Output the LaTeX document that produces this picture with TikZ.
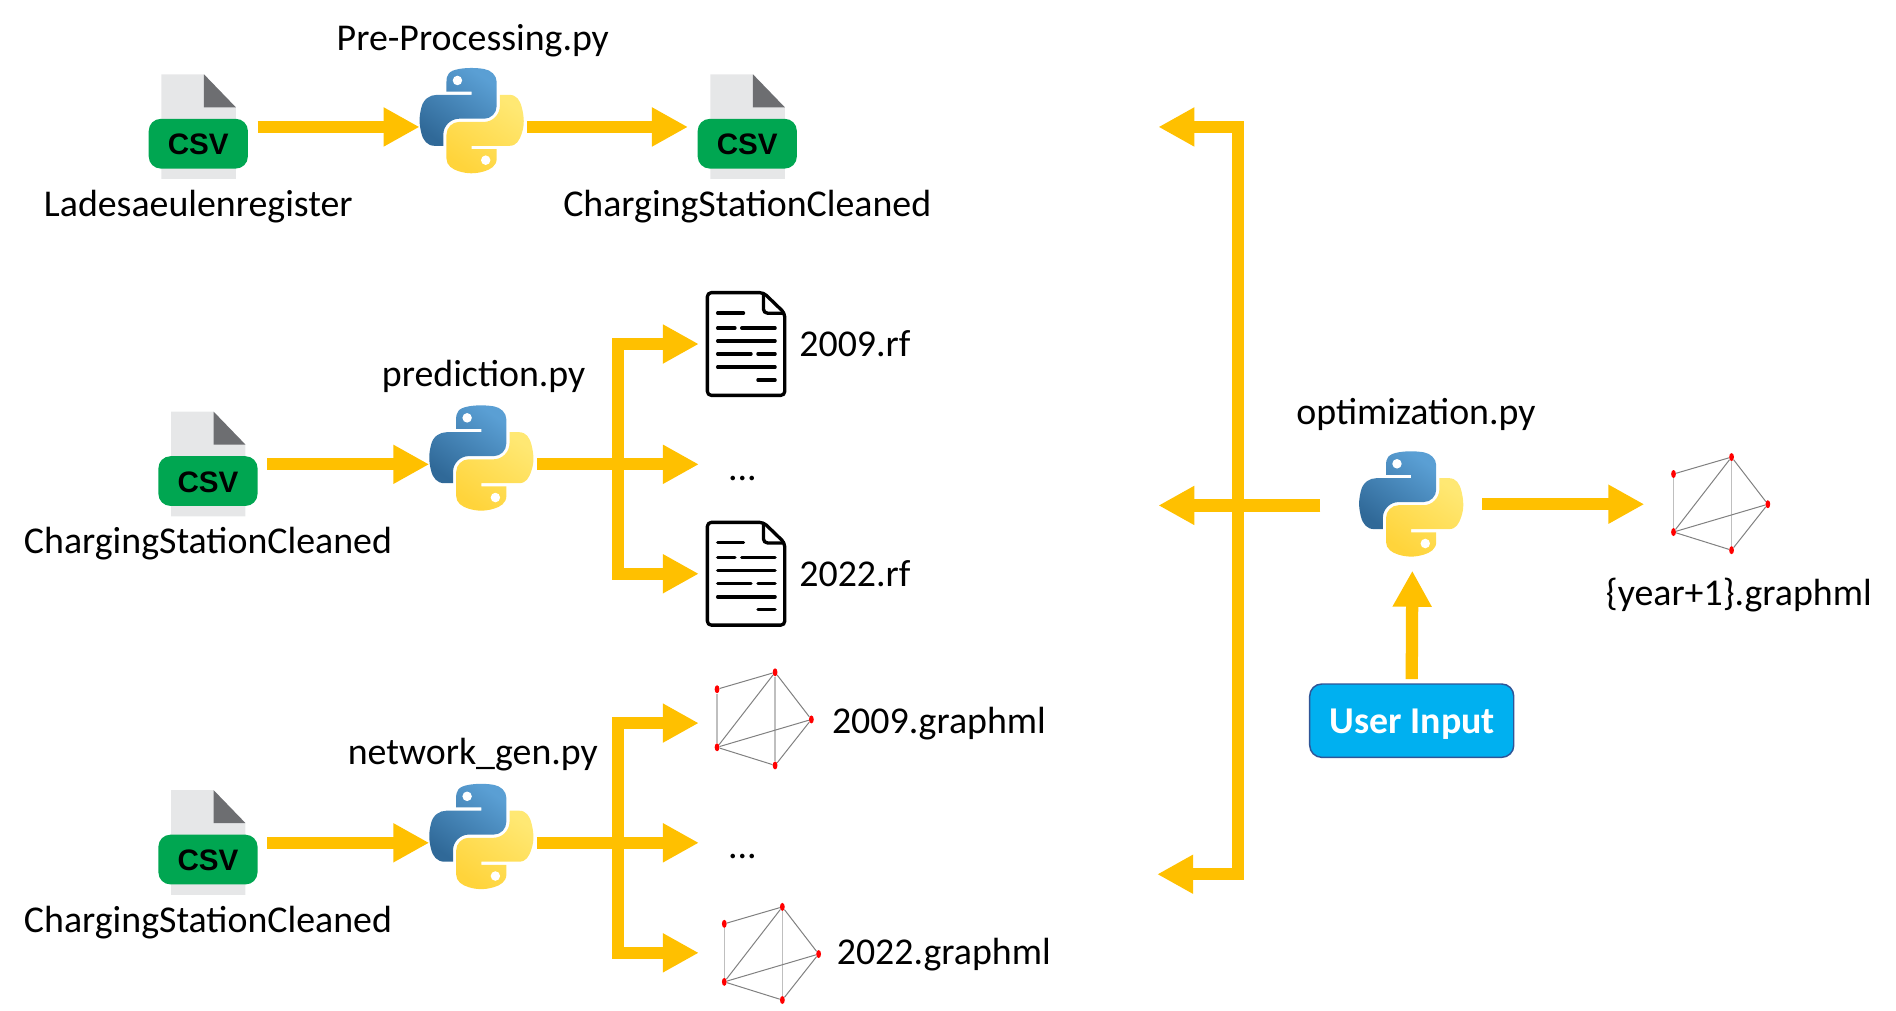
\documentclass[tikz,border=0pt]{standalone}
\usepackage{fontspec}
\setmainfont{Carlito}
\newfontfamily\csvfont{Liberation Sans}
\usetikzlibrary{arrows.meta,shapes.geometric}
\definecolor{flowc}{HTML}{FFC000}
\definecolor{pyblueA}{HTML}{5A9FD4}
\definecolor{pyblueB}{HTML}{306998}
\definecolor{pyyelA}{HTML}{FFE873}
\definecolor{pyyelB}{HTML}{FFD43B}
\definecolor{pageg}{HTML}{E6E7E8}
\definecolor{foldg}{HTML}{6D6E71}
\definecolor{badge}{HTML}{00A651}
\definecolor{userfill}{HTML}{00B0F0}
\definecolor{userline}{HTML}{2F5597}
\tikzset{
  txt/.style={font=\fontsize{28.4}{34}\selectfont,inner sep=0pt,anchor=base,text=black},
  flow/.style={draw=flowc,line width=9.2pt,-{Triangle[length=27pt,width=27.5pt,fill=flowc]}},
  iconbox/.style={inner sep=0pt,minimum width=#1*0.9068pt,minimum height=70pt},
  gdot/.style={fill=red,draw=none,ellipse,inner sep=0pt,minimum width=3.6pt,minimum height=6pt},
  gedge/.style={draw=black!50,line width=0.75pt},
  gedgel/.style={draw=black!25,line width=0.9pt},
  docline/.style={draw=black,line width=2.5pt,line cap=round},
  pylogo/.pic={
    \begin{scope}[scale=0.775,shift={(-55.5,-56.5)}]
      \shade[left color=pyblueA,right color=pyblueB,shading angle=-35]
        (54.92,0) .. controls (50.34,0.02) and (45.96,0.41) .. (42.11,1.09)
        .. controls (30.76,3.10) and (28.70,7.29) .. (28.70,15.03)
        -- (28.70,25.25) -- (55.51,25.25) -- (55.51,28.66) -- (18.64,28.66)
        .. controls (10.85,28.66) and (4.02,33.34) .. (1.89,42.25)
        .. controls (-0.57,52.46) and (-0.68,58.84) .. (1.89,69.50)
        .. controls (3.79,77.44) and (8.35,83.09) .. (16.14,83.09)
        -- (25.36,83.09) -- (25.36,70.84)
        .. controls (25.36,61.99) and (33.01,54.18) .. (42.11,54.18)
        -- (68.89,54.18)
        .. controls (76.34,54.18) and (82.29,48.04) .. (82.29,40.56)
        -- (82.29,15.03)
        .. controls (82.29,7.76) and (76.16,2.30) .. (68.89,1.09)
        .. controls (64.28,0.33) and (59.50,-0.02) .. (54.92,0) -- cycle;
      \fill[white] (40.42,13.34) ellipse [x radius=5.03,y radius=5.1];
      \shade[left color=pyyelA,right color=pyyelB,shading angle=-35]
        (85.64,28.66) -- (85.64,40.56)
        .. controls (85.64,49.79) and (77.81,57.56) .. (68.89,57.56)
        -- (42.11,57.56)
        .. controls (34.77,57.56) and (28.70,63.84) .. (28.70,71.19)
        -- (28.70,96.71)
        .. controls (28.70,103.98) and (35.02,108.25) .. (42.11,110.33)
        .. controls (50.60,112.83) and (58.74,113.28) .. (68.89,110.33)
        .. controls (75.64,108.37) and (82.30,104.44) .. (82.30,96.71)
        -- (82.30,86.49) -- (55.52,86.49) -- (55.52,83.09) -- (95.71,83.09)
        .. controls (103.50,83.09) and (106.40,77.65) .. (109.12,69.50)
        .. controls (111.93,61.10) and (111.81,53.02) .. (109.12,42.25)
        .. controls (107.19,34.49) and (103.52,28.66) .. (95.71,28.66) -- cycle;
      \fill[white] (70.58,98.40) ellipse [x radius=5.03,y radius=5.1];
    \end{scope}
  },
  csvicon/.pic={
    \fill[pageg] (-30.5,-43.5) -- (4.7,-43.5) -- (31,-16.3) -- (31,43) -- (-30.5,43) -- cycle;
    \fill[foldg] (4.7,-43.5) -- (31,-16.3) -- (4.7,-16.3) -- cycle;
    \fill[badge,rounded corners=9] (-41,-6.7) rectangle (41,34.4);
    \node[inner sep=0pt,text=black,font=\csvfont\bfseries\fontsize{22.2}{24}\selectfont] (label) at (0,14.5) {CSV};
  },
  docicon/.pic={
    \draw[line width=2.5pt,line join=round,rounded corners=3,fill=white]
      (-32,-42.5) -- (14.4,-42.5) -- (32,-25.5) -- (32,42.5) -- (-32,42.5) -- cycle;
    \draw[line width=2.5pt,line join=round,rounded corners=3] (14.4,-42.5) -- (14.4,-25.5) -- (32,-25.5);
    \draw[docline] (-23.5,-25.6) -- (-2.1,-25.6);
    \draw[docline] (-23.5,-13.2) -- (-9.2,-13.2) (-3.6,-13.2) -- (24,-13.2);
    \draw[docline] (-23.5,-2.5) -- (24,-2.5);
    \draw[docline] (-23.5,8.2) -- (4.1,8.2) (9.8,8.2) -- (24,8.2);
    \draw[docline] (-23.5,19.1) -- (24,19.1);
    \draw[docline] (9.8,29.8) -- (24,29.8);
  },
  netgraph/.pic={
    \node[gdot] (a) at (-39,-24.5) {};
    \node[gdot] (b) at (9,-38.5) {};
    \node[gdot] (c) at (39,0.5) {};
    \node[gdot] (d) at (-39,23.5) {};
    \node[gdot] (e) at (9,38.5) {};
    \draw[gedge] (a) -- (b);
    \draw[gedgel] (a) -- (d);
    \draw[gedge] (b) -- (d);
    \draw[gedgel] (b) -- (e);
    \draw[gedge] (b) -- (c);
    \draw[gedge] (c) -- (d);
    \draw[gedge] (c) -- (e);
    \draw[gedge] (d) -- (e);
  }
}
\begin{document}
\begin{tikzpicture}[x=0.9068pt,y=-0.9068pt]
\useasboundingbox (0,-1) rectangle (1568,835);

% --- row 1
\node[iconbox=82,outer sep=7.3pt] (csvA) at (164,104) {};
\pic at (csvA.center) {csvicon};
\node[iconbox=89,outer sep=0pt] (pyA) at (391.5,104) {};
\pic at (390,99) {pylogo};
\node[iconbox=82,outer sep=7.3pt] (csvB) at (618,104) {};
\pic at (csvB.center) {csvicon};
\draw[flow] (csvA.east) -- (pyA.west);
\draw[flow] (pyA.east) -- (csvB.west);
\node[txt] (lpre) at (391,41) {Pre-Processing.py};
\node[txt] (llad) at (164,178) {Ladesaeulenregister};
\node[txt] (lcsc) at (618,178) {ChargingStationCleaned};

% --- row 2
\node[iconbox=82,outer sep=7.3pt] (csvC) at (172,383) {};
\pic at (csvC.center) {csvicon};
\node[iconbox=89,outer sep=0pt] (pyB) at (399.5,383) {};
\pic at (398,378) {pylogo};
\draw[flow] (csvC.east) -- (pyB.west);
\node[txt] (lpred) at (400,319) {prediction.py};
\node[txt] (lcsc2) at (172,457) {ChargingStationCleaned};
\node[iconbox=64,outer sep=6.4pt] (docA) at (617,283.5) {};
\pic at (docA.center) {docicon};
\node[iconbox=64,outer sep=6.4pt] (docB) at (617,473.5) {};
\pic at (docB.center) {docicon};
\coordinate (dotsA) at (578,383);
\coordinate (jB) at (511,383);
\draw[flow] (jB) |- (docA.west);
\draw[flow] (jB) |- (docB.west);
\draw[flow] (pyB.east) -- (dotsA);
\node[txt] (ldotsA) at (614,396) {...};
\node[txt] (lrfA) at (707,294) {2009.rf};
\node[txt] (lrfB) at (707,484) {2022.rf};

% --- row 3
\node[iconbox=82,outer sep=7.3pt] (csvD) at (172,696) {};
\pic at (csvD.center) {csvicon};
\node[iconbox=89,outer sep=0pt] (pyC) at (399.5,696) {};
\pic at (398,691) {pylogo};
\draw[flow] (csvD.east) -- (pyC.west);
\node[txt] (lnet) at (391,631) {network\_gen.py};
\node[txt] (lcsc3) at (172,770) {ChargingStationCleaned};
\node[iconbox=78,outer sep=13.7pt] (gA) at (632,597) {};
\pic (gnA) at (632,593.5) {netgraph};
\node[iconbox=78,outer sep=19.1pt] (gB) at (638,787) {};
\pic (gnB) at (638,787.5) {netgraph};
\coordinate (dotsB) at (578,696);
\coordinate (jC) at (511,696);
\draw[flow] (jC) |- (gA.west);
\draw[flow] (jC) |- (gB.west);
\draw[flow] (pyC.east) -- (dotsB);
\node[txt] (ldotsB) at (614,709) {...};
\node[txt] (lgA) at (776.5,606) {2009.graphml};
\node[txt] (lgB) at (780.5,797) {2022.graphml};

% --- optimisation
\node[iconbox=89,outer sep=0pt] (pyD) at (1167,416) {};
\pic at (1167,416) {pylogo};
\node[txt] (lopt) at (1171,350) {optimization.py};
\coordinate (optL) at (1092,417);
\coordinate (optR) at (1226,416);
\coordinate (optB) at (1168,471);
\coordinate (tT) at (958,104);
\coordinate (tM) at (958,417);
\coordinate (tB) at (957,722);
\coordinate (jD) at (1024,417);
\draw[flow] (jD) |- (tT);
\draw[flow] (jD) |- (tB);
\draw[flow] (optL) -- (tM);
\node[iconbox=78,outer sep=21.9pt] (gC) at (1423,416) {};
\pic (gnC) at (1423,415.5) {netgraph};
\draw[flow] (optR) -- (gC.west);
\node[txt] (lyr) at (1438,500) {\{year+1\}.graphml};
\node[draw=userline,line width=1.1pt,fill=userfill,rounded corners=9pt,minimum width=153pt,minimum height=55pt,inner sep=0pt,outer sep=3.6pt] (user) at (1167.5,595) {};
\node[txt,text=white,font=\bfseries\fontsize{28.4}{34}\selectfont] (luser) at (1168,606) {User Input};
\draw[flow] (user.north) -- (optB);
\end{tikzpicture}
\end{document}
